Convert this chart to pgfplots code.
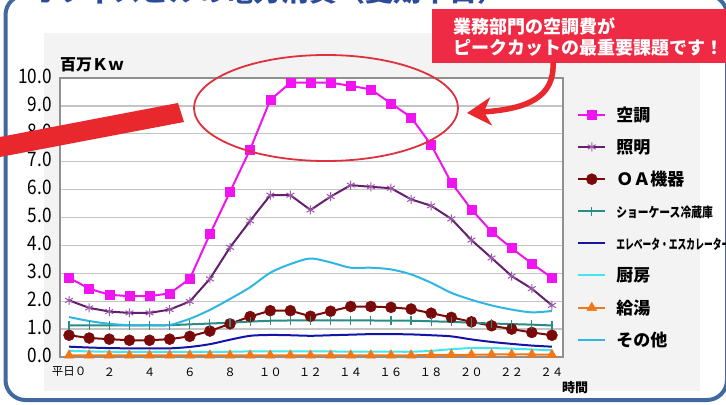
\documentclass[border=0pt]{standalone}
\usepackage{fontspec}
\setmainfont{Noto Sans CJK JP}
\usepackage{graphicx}
\usepackage{pgfplots}
\usepackage{pgfplotstable}
\pgfplotsset{compat=1.18}
\usetikzlibrary{arrows.meta}

\definecolor{frameblue}{HTML}{4168A0}
\definecolor{titleblue}{HTML}{2B4C9B}
\definecolor{panelgray}{HTML}{F3F3F3}
\definecolor{callred}{HTML}{EE2A44}
\definecolor{arrowred}{HTML}{E8282C}
\definecolor{ellred}{HTML}{E0303C}
\definecolor{gridgray}{HTML}{C4C4C4}
\definecolor{boxgray}{HTML}{909090}
\definecolor{cMag}{HTML}{F014F0}
\definecolor{cPur}{HTML}{64206E}
\definecolor{cPurM}{HTML}{9C5AAA}
\definecolor{cOA}{HTML}{7A0A0A}
\definecolor{cTeal}{HTML}{2A8C84}
\definecolor{cBlue}{HTML}{1414A8}
\definecolor{cKit}{HTML}{44E6EE}
\definecolor{cHot}{HTML}{F07818}
\definecolor{cOth}{HTML}{30B6E2}

\newcommand\Strut{\rule[-5bp]{0pt}{19bp}}

% hour, 空調, 照明, OA機器, ショーケース, エレベータ, 厨房, 給湯, その他
\pgfplotstableread{
h  ac    light oa    cas   elev  kit   hot   oth
0  2.84  2.03  0.78  1.13  0.37  0.22  0.06  1.43
1  2.45  1.76  0.68  1.13  0.34  0.20  0.06  1.29
2  2.23  1.63  0.64  1.13  0.32  0.19  0.06  1.19
3  2.18  1.58  0.60  1.13  0.31  0.18  0.06  1.14
4  2.18  1.58  0.60  1.13  0.31  0.18  0.06  1.14
5  2.28  1.70  0.64  1.14  0.31  0.18  0.06  1.15
6  2.80  1.99  0.74  1.17  0.36  0.18  0.06  1.37
7  4.40  2.80  0.93  1.20  0.46  0.18  0.06  1.69
8  5.92  3.93  1.19  1.23  0.62  0.19  0.06  2.08
9  7.44  4.88  1.45  1.27  0.76  0.20  0.06  2.50
10 9.21  5.80  1.66  1.30  0.79  0.20  0.06  3.02
11 9.83  5.80  1.66  1.31  0.78  0.20  0.06  3.33
12 9.83  5.27  1.46  1.31  0.76  0.20  0.06  3.53
13 9.83  5.75  1.64  1.31  0.78  0.20  0.06  3.39
14 9.72  6.16  1.81  1.31  0.80  0.19  0.06  3.20
15 9.59  6.10  1.81  1.31  0.82  0.19  0.06  3.20
16 9.09  6.05  1.78  1.30  0.82  0.19  0.06  3.14
17 8.59  5.65  1.72  1.30  0.81  0.19  0.06  2.96
18 7.60  5.42  1.57  1.28  0.78  0.22  0.07  2.66
19 6.25  4.95  1.42  1.26  0.74  0.28  0.08  2.30
20 5.29  4.19  1.26  1.23  0.63  0.32  0.08  2.05
21 4.49  3.55  1.12  1.20  0.54  0.32  0.09  1.85
22 3.90  2.90  1.00  1.18  0.47  0.30  0.09  1.70
23 3.35  2.45  0.88  1.16  0.41  0.27  0.09  1.60
24 2.84  1.85  0.78  1.13  0.37  0.24  0.08  1.65
}\loaddata

\begin{document}
\begin{tikzpicture}
\path[use as bounding box, clip] (0,0) rectangle (726bp,-405bp);
\fill[white] (0,0) rectangle (726bp,-405bp);
\draw[frameblue, line width=4bp, rounded corners=20bp] (5.5bp,5bp) rectangle (727bp,-400bp);
\fill[panelgray] (44bp,-33bp) rectangle (700bp,-391bp);
\node[anchor=base west, inner sep=0pt, text=titleblue,
      font=\bfseries\fontsize{28bp}{28bp}\selectfont] at (30bp,-1bp)
      {オフィスビルの電力消費（夏期平日）};

\begin{axis}[
  at={(60bp,-357bp)}, anchor=south west,
  width=503bp, height=279bp, scale only axis,
  xmin=-0.45, xmax=24.55, ymin=0, ymax=10,
  axis background/.style={fill=white},
  axis line style={draw=boxgray, line width=1.2bp},
  ymajorgrids, grid style={draw=gridgray, line width=1.3bp},
  major tick length=0pt,
  /pgf/number format/assume math mode=true,
  ytick={0,1,...,10},
  yticklabel={\scalebox{0.86}[1]{\pgfmathprintnumber[fixed,fixed zerofill,precision=1]{\tick}}},
  yticklabel style={anchor=east, inner sep=0pt, xshift=-8bp, yshift=2bp,
                    font=\fontsize{20bp}{20bp}\selectfont},
  xtick={0,2,...,24},
  xticklabels={平日０,２,４,６,８,１０,１２,１４,１６,１８,２０,２２,２４},
  xticklabel style={anchor=center, inner sep=0pt, yshift=-15bp,
                    font=\fontsize{11.5bp}{12bp}\selectfont},
  legend style={draw=none, fill=none, inner sep=0pt,
                at={(axis description cs:1.028,0.898)}, anchor=north west,
                row sep=16.5bp, column sep=10bp,
                nodes={inner sep=0pt},
                font=\bfseries\fontsize{17bp}{17bp}\selectfont},
  legend cell align=left,
  legend image code/.code={\draw[mark repeat=2,mark phase=2]
      plot coordinates {(0bp,0bp) (13.5bp,0bp) (27bp,0bp)};},
  every axis plot/.append style={line width=2bp},
]
\addplot[cMag, mark=square*, mark size=4.5bp, mark options={line width=0.5bp}]
  table[x=h, y=ac] {\loaddata};
\addlegendentry{\Strut 空調}
\addplot[cPur, mark=asterisk, mark size=4.5bp, mark options={cPurM, line width=1bp}]
  table[x=h, y=light] {\loaddata};
\addlegendentry{\Strut 照明}
\addplot[cOA, mark=*, mark size=5.5bp, mark options={line width=0.5bp}]
  table[x=h, y=oa] {\loaddata};
\addlegendentry{\Strut ＯＡ機器}
\addplot[cTeal, mark=|, mark size=4.5bp, mark options={line width=1.2bp}]
  table[x=h, y=cas] {\loaddata};
\addlegendentry{\Strut\scalebox{0.8}[1]{\fontsize{13.5bp}{14bp}\selectfont ショーケース冷蔵庫}}
\addplot[cBlue, smooth, no marks]
  table[x=h, y=elev] {\loaddata};
\addlegendentry{\Strut\scalebox{0.65}[1]{\fontsize{13.5bp}{14bp}\selectfont エレベータ・エスカレーター}}
\addplot[cKit, smooth, no marks]
  table[x=h, y=kit] {\loaddata};
\addlegendentry{\Strut 厨房}
\addplot[cHot, mark=triangle*, mark size=5.5bp, mark options={line width=0.5bp}]
  table[x=h, y=hot] {\loaddata};
\addlegendentry{\Strut 給湯}
\addplot[cOth, smooth, no marks]
  table[x=h, y=oth] {\loaddata};
\addlegendentry{\Strut その他}
\end{axis}

\node[anchor=south west, inner sep=0pt, font=\bfseries\fontsize{16bp}{16bp}\selectfont]
  at (60bp,-72bp) {百万Ｋｗ};
\node[anchor=center, inner sep=0pt, font=\bfseries\fontsize{13bp}{13bp}\selectfont]
  at (575bp,-388bp) {時間};

\begin{scope}[x=1bp, y=-1bp]
\fill[arrowred] (0,137) -- (178,103) -- (184,122) -- (0,157) -- cycle;
\draw[ellred, line width=1.8bp] (326,108) ellipse [x radius=132bp, y radius=53bp];
\fill[callred] (432,9) rectangle (740,63);
\node[anchor=base west, inner sep=0pt, text=white,
      font=\bfseries\fontsize{18bp}{18bp}\selectfont] at (453,33) {業務部門の空調費が};
\node[anchor=base west, inner sep=0pt, text=white,
      font=\bfseries\fontsize{18bp}{18bp}\selectfont] at (453,54) {ピークカットの最重要課題です！};
\draw[arrowred, line width=5.5bp, -{Stealth[length=24bp, width=28bp, inset=7bp]}]
  (553,62) .. controls (555,97) and (528,109) .. (467,113);
\end{scope}
\end{tikzpicture}
\end{document}
